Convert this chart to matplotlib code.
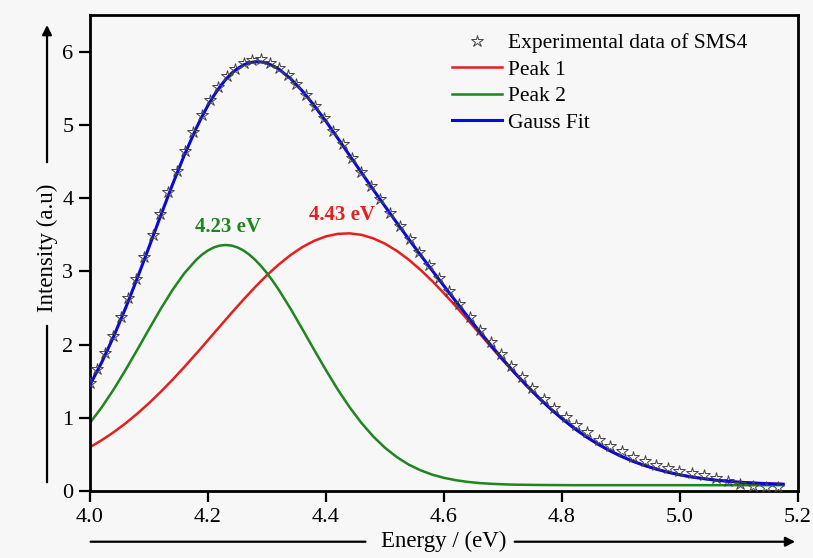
# Gaussian deconvolution of the SMS4 absorption band
import matplotlib
matplotlib.use('Agg')
import matplotlib.pyplot as plt

plt.rcParams['font.family'] = ['Liberation Serif', 'DejaVu Serif']

# Experimental points (energy in eV, intensity in a.u.)
exp_energy = [4.000, 4.012, 4.026, 4.039, 4.052, 4.065, 4.078, 4.092, 4.106, 4.119,
              4.133, 4.147, 4.161, 4.175, 4.189, 4.203, 4.217, 4.232, 4.246, 4.261,
              4.275, 4.290, 4.305, 4.320, 4.335, 4.350, 4.366, 4.381, 4.397, 4.412,
              4.428, 4.444, 4.460, 4.476, 4.492, 4.509, 4.525, 4.542, 4.558, 4.575,
              4.592, 4.609, 4.626, 4.644, 4.661, 4.679, 4.696, 4.714, 4.732, 4.750,
              4.769, 4.787, 4.806, 4.824, 4.843, 4.862, 4.881, 4.901, 4.920, 4.940,
              4.959, 4.979, 4.999, 5.020, 5.040, 5.061, 5.081, 5.102, 5.123, 5.145,
              5.166]
exp_intensity = [1.47, 1.66, 1.89, 2.12, 2.37, 2.63, 2.90, 3.20, 3.50, 3.78,
                 4.08, 4.37, 4.64, 4.90, 5.13, 5.34, 5.52, 5.67, 5.77, 5.84,
                 5.89, 5.90, 5.85, 5.78, 5.68, 5.56, 5.41, 5.26, 5.09, 4.92,
                 4.74, 4.55, 4.36, 4.17, 3.99, 3.80, 3.62, 3.44, 3.27, 3.09,
                 2.91, 2.73, 2.55, 2.37, 2.20, 2.03, 1.87, 1.71, 1.56, 1.41,
                 1.26, 1.13, 1.01, 0.90, 0.80, 0.70, 0.62, 0.54, 0.47, 0.41,
                 0.36, 0.32, 0.28, 0.25, 0.22, 0.18, 0.14, 0.10, 0.07, 0.06,
                 0.05]

# Fitted curves (finer steps around the maxima)
fit_energy = [4.00, 4.02, 4.04, 4.06, 4.08, 4.10, 4.12, 4.14, 4.16, 4.18,
              4.19, 4.20, 4.21, 4.22, 4.23, 4.24, 4.25, 4.26, 4.27, 4.28,
              4.29, 4.30, 4.31, 4.32, 4.34, 4.36, 4.38,
              4.40, 4.42, 4.44, 4.46, 4.48, 4.50, 4.52, 4.54, 4.56, 4.58,
              4.60, 4.62, 4.64, 4.66, 4.68, 4.70, 4.72, 4.74, 4.76, 4.78,
              4.80, 4.82, 4.84, 4.86, 4.88, 4.90, 4.92, 4.94, 4.96, 4.98,
              5.00, 5.02, 5.04, 5.06, 5.08, 5.10, 5.12, 5.14, 5.16, 5.175]
peak1 = [0.599, 0.695, 0.803, 0.923, 1.056, 1.200, 1.356, 1.521, 1.695, 1.876,
         1.967, 2.061, 2.154, 2.247, 2.340, 2.433, 2.523, 2.613, 2.700, 2.786,
         2.868, 2.948, 3.022, 3.094, 3.223, 3.332, 3.417,
         3.478, 3.512, 3.519, 3.499, 3.451, 3.378, 3.280, 3.161, 3.022, 2.868,
         2.700, 2.523, 2.340, 2.154, 1.967, 1.784, 1.607, 1.437, 1.276, 1.126,
         0.988, 0.861, 0.747, 0.645, 0.555, 0.476, 0.407, 0.349, 0.299, 0.256,
         0.221, 0.192, 0.169, 0.149, 0.134, 0.121, 0.112, 0.104, 0.098, 0.094]
peak2 = [0.931, 1.145, 1.386, 1.650, 1.928, 2.211, 2.489, 2.748, 2.975, 3.157,
         3.229, 3.286, 3.327, 3.352, 3.360, 3.352, 3.327, 3.286, 3.229, 3.157,
         3.072, 2.975, 2.866, 2.748, 2.489, 2.211, 1.928,
         1.650, 1.386, 1.145, 0.931, 0.746, 0.591, 0.464, 0.362, 0.284, 0.224,
         0.180, 0.148, 0.125, 0.109, 0.099, 0.092, 0.087, 0.085, 0.083, 0.082,
         0.081, 0.080, 0.080, 0.080, 0.080, 0.080, 0.080, 0.080, 0.080, 0.080,
         0.080, 0.080, 0.080, 0.080, 0.080, 0.080, 0.080, 0.080, 0.080, 0.080]
gauss_fit = [1.450, 1.760, 2.109, 2.493, 2.904, 3.331, 3.765, 4.189, 4.590, 4.953,
             5.116, 5.267, 5.401, 5.519, 5.620, 5.705, 5.770, 5.819, 5.849, 5.863,
             5.860, 5.843, 5.808, 5.762, 5.632, 5.463, 5.265,
             5.048, 4.818, 4.584, 4.350, 4.117, 3.889, 3.664, 3.443, 3.226, 3.012,
             2.800, 2.591, 2.385, 2.183, 1.986, 1.796, 1.614, 1.442, 1.279, 1.128,
             0.989, 0.861, 0.747, 0.645, 0.555, 0.476, 0.407, 0.349, 0.299, 0.256,
             0.221, 0.192, 0.169, 0.149, 0.134, 0.121, 0.112, 0.104, 0.098, 0.094]

x_ticks = [4.0, 4.2, 4.4, 4.6, 4.8, 5.0, 5.2]
y_ticks = [0, 1, 2, 3, 4, 5, 6]

bg = '#f7f7f7'
fig = plt.figure(figsize=(8.13, 5.58), dpi=100, facecolor=bg)
ax = fig.add_axes([0.1107, 0.12, 0.8708, 0.853], facecolor=bg)

ax.plot(exp_energy, exp_intensity, linestyle='none', marker='*', markersize=9,
        markerfacecolor='none', markeredgecolor='#444444', markeredgewidth=0.7,
        label='Experimental data of SMS4', zorder=4)
ax.plot(fit_energy, peak1, color='#e4201c', lw=1.8, label='Peak 1')
ax.plot(fit_energy, peak2, color='#1d861d', lw=1.8, label='Peak 2')
ax.plot(fit_energy, gauss_fit, color='#0a0ad8', lw=2.2, label='Gauss Fit', zorder=3)

ax.text(4.234, 3.60, '4.23 eV', color='#1d861d', fontsize=15, fontweight='bold',
        ha='center', va='center')
ax.text(4.427, 3.77, '4.43 eV', color='#e4201c', fontsize=15, fontweight='bold',
        ha='center', va='center')

ax.set_xlim(4.0, 5.2)
ax.set_ylim(0, 6.5)
ax.set_xticks(x_ticks)
ax.set_xticklabels(['%.1f' % t for t in x_ticks])
ax.set_yticks(y_ticks)
ax.tick_params(axis='both', direction='out', length=8, width=1.6, labelsize=16, pad=4)
for s in ax.spines.values():
    s.set_linewidth(2)

ax.legend(loc='upper left', bbox_to_anchor=(0.511, 0.962), frameon=False, fontsize=15.5,
          numpoints=1, handlelength=2.32, handletextpad=0.28, labelspacing=0.3,
          borderpad=0, borderaxespad=0)

# axis titles sitting on arrows outside the frame
line = dict(arrowstyle='-', color='black', lw=1.6)
arrow = dict(arrowstyle='-|>', color='black', lw=1.6, mutation_scale=14)
ax.annotate('', xy=(0.393, -0.1065), xytext=(-0.003, -0.1065), xycoords='axes fraction',
            arrowprops=line, annotation_clip=False)
ax.annotate('', xy=(1.0, -0.1065), xytext=(0.596, -0.1065), xycoords='axes fraction',
            arrowprops=arrow, annotation_clip=False)
ax.text(0.4993, -0.1065, 'Energy / (eV)', transform=ax.transAxes, fontsize=16.5,
        ha='center', va='center')
ax.annotate('', xy=(-0.0607, 0.353), xytext=(-0.0607, 0.0126), xycoords='axes fraction',
            arrowprops=line, annotation_clip=False)
ax.annotate('', xy=(-0.0607, 0.985), xytext=(-0.0607, 0.685), xycoords='axes fraction',
            arrowprops=arrow, annotation_clip=False)
ax.text(-0.0607, 0.5116, 'Intensity (a.u)', transform=ax.transAxes, fontsize=16.5,
        rotation=90, ha='center', va='center')

fig.savefig('out.png', dpi=100, facecolor=bg)
